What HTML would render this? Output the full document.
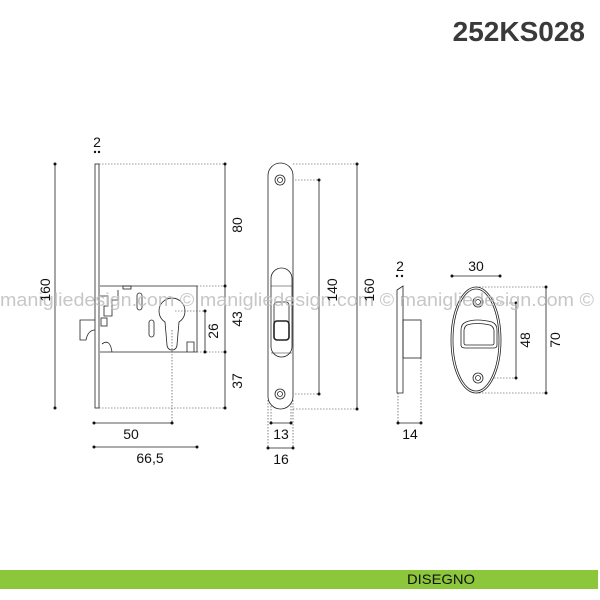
<!DOCTYPE html>
<html><head><meta charset="utf-8"><style>
html,body{margin:0;padding:0;background:#fff}
svg{display:block}
text{font-family:"Liberation Sans",sans-serif}
</style></head><body>
<svg width="600" height="600" viewBox="0 0 600 600" xmlns="http://www.w3.org/2000/svg">
<text x="585" y="41" text-anchor="end" font-size="28" font-weight="bold" fill="#3a3a3a">252KS028</text>

<g stroke="#222" fill="none" stroke-width="0.8">
<!-- LEFT VIEW -->
<rect x="95" y="164" width="4" height="244" fill="#fff"/>
<path d="M100 286 H197 V352 H100" fill="none"/>
<path d="M95 320 H80 V340 H86 Q88 330 95 330"/>
<path d="M100 296 H108 V306 H104 V316 H112 V300 H118 V290"/>
<rect x="101" y="318" width="6" height="8"/>
<path d="M102 344 Q110 338 112 352"/>
<rect x="137" y="293" width="5" height="17" rx="2.5"/>
<rect x="149" y="320" width="5" height="17" rx="2.5"/>
<rect x="123" y="286" width="8" height="3"/>
<path d="M165 322 A13 13 0 1 1 179 322 L177 345 A5 5 0 0 1 167 345 Z" fill="#fff"/>
<path d="M187 352 V342 H194 V352"/>
</g>

<g stroke="#333" stroke-width="0.6" fill="none" stroke-dasharray="1.5,1.5">
<path d="M99 164 H225 M99 408 H225 M197 286 H225 M197 352 H225 M175 311 H205 M197 352 H205 M172 330 V423"/>
<path d="M293 164 H357 M293 409 H357 M286 180 H319 M286 394 H319"/>
<path d="M271 400 V423 M291 400 V423 M268 400 V448 M293 400 V448"/>
<path d="M398 393 V423 M421 358 V423"/>
<path d="M476 287 H546 M476 393 H546 M482 303 H516 M482 378 H516"/>
</g>

<g stroke="#222" stroke-width="0.8">
<path d="M55 164 V408 M225 164 V408 M205 311 V352 M94 423 H172 M94 447 H197"/>
<path d="M319 180 V394 M357 164 V409 M271 423 H291 M268 448 H293 M398 423 H421 M452 276 H500 M516 303 V378 M546 287 V393"/>
</g>
<g fill="#111">
<circle cx="55" cy="164" r="1.5"/><circle cx="55" cy="408" r="1.5"/>
<circle cx="225" cy="164" r="1.5"/><circle cx="225" cy="286" r="1.5"/><circle cx="225" cy="352" r="1.5"/><circle cx="225" cy="408" r="1.5"/>
<circle cx="205" cy="311" r="1.5"/><circle cx="205" cy="352" r="1.5"/>
<circle cx="94" cy="423" r="1.5"/><circle cx="172" cy="423" r="1.5"/><circle cx="94" cy="447" r="1.5"/><circle cx="197" cy="447" r="1.5"/>
<circle cx="95" cy="152" r="1.2"/><circle cx="99" cy="152" r="1.2"/>
<circle cx="319" cy="180" r="1.5"/><circle cx="319" cy="394" r="1.5"/><circle cx="357" cy="164" r="1.5"/><circle cx="357" cy="409" r="1.5"/>
<circle cx="271" cy="423" r="1.5"/><circle cx="291" cy="423" r="1.5"/><circle cx="268" cy="448" r="1.5"/><circle cx="293" cy="448" r="1.5"/>
<circle cx="397" cy="276" r="1.2"/><circle cx="402" cy="276" r="1.2"/>
<circle cx="398" cy="423" r="1.5"/><circle cx="421" cy="423" r="1.5"/>
<circle cx="452" cy="276" r="1.5"/><circle cx="500" cy="276" r="1.5"/>
<circle cx="516" cy="303" r="1.5"/><circle cx="516" cy="378" r="1.5"/><circle cx="546" cy="287" r="1.5"/><circle cx="546" cy="393" r="1.5"/>
</g>

<g stroke="#222" fill="none" stroke-width="0.8">
<rect x="268" y="163" width="25" height="246" rx="12.5" fill="#fff"/>
<circle cx="280" cy="180" r="5"/><circle cx="280" cy="180" r="2.5"/>
<circle cx="280" cy="394" r="5"/><circle cx="280" cy="394" r="2.5"/>
<rect x="271" y="268" width="21" height="89" rx="10.5"/>
<path d="M271 286 H292 M271 353 H292" stroke-width="0.5"/>
<rect x="274" y="302" width="15" height="38" rx="3"/>
<rect x="274" y="321" width="15" height="19" rx="3" stroke-width="1.6"/>
<path d="M397 290 L403 286 V393 H397 Z" fill="#fff"/>
<rect x="403" y="320" width="18" height="38"/>
<ellipse cx="476" cy="340" rx="25" ry="53" fill="#fff"/>
<ellipse cx="476" cy="340" rx="23" ry="51"/>
<circle cx="478" cy="302" r="5"/><circle cx="478" cy="302" r="2.5"/>
<circle cx="478" cy="378" r="5"/><circle cx="478" cy="378" r="2.5"/>
<path d="M466 322 Q476 318 492 322 Q497 324 497 330 V345 Q497 348 494 348 H465 Q461 348 461 345 V330 Q461 324 466 322 Z"/>
<path d="M467 325 Q476 322 490 325 Q494 327 494 331 V343 Q494 345 492 345 H466 Q464 345 464 343 V331 Q464 327 467 325 Z"/>
</g>

<text x="0" y="306" font-size="18" fill="#bdbdbd" fill-opacity="0.85" textLength="594" lengthAdjust="spacingAndGlyphs">manigliedesign.com © manigliedesign.com © manigliedesign.com ©</text>

<g font-size="14" fill="#111">
<text x="97" y="147" text-anchor="middle">2</text>
<text transform="translate(50,290) rotate(-90)" text-anchor="middle">160</text>
<text transform="translate(242,225) rotate(-90)" text-anchor="middle">80</text>
<text transform="translate(242,319) rotate(-90)" text-anchor="middle">43</text>
<text transform="translate(242,381) rotate(-90)" text-anchor="middle">37</text>
<text transform="translate(218,331) rotate(-90)" text-anchor="middle">26</text>
<text x="131" y="439" text-anchor="middle">50</text>
<text x="150" y="463" text-anchor="middle">66,5</text>
<text transform="translate(337,290) rotate(-90)" text-anchor="middle">140</text>
<text transform="translate(374,290) rotate(-90)" text-anchor="middle">160</text>
<text x="281" y="439" text-anchor="middle">13</text>
<text x="281" y="464" text-anchor="middle">16</text>
<text x="400" y="271" text-anchor="middle">2</text>
<text x="410" y="439" text-anchor="middle">14</text>
<text x="476" y="271" text-anchor="middle">30</text>
<text transform="translate(530,340) rotate(-90)" text-anchor="middle">48</text>
<text transform="translate(560,340) rotate(-90)" text-anchor="middle">70</text>
</g>

<rect x="0" y="570" width="598" height="19" fill="#8cc63a"/>
<text x="407" y="584" font-size="14" fill="#111" textLength="68" lengthAdjust="spacingAndGlyphs">DISEGNO</text>
</svg>
</body></html>
